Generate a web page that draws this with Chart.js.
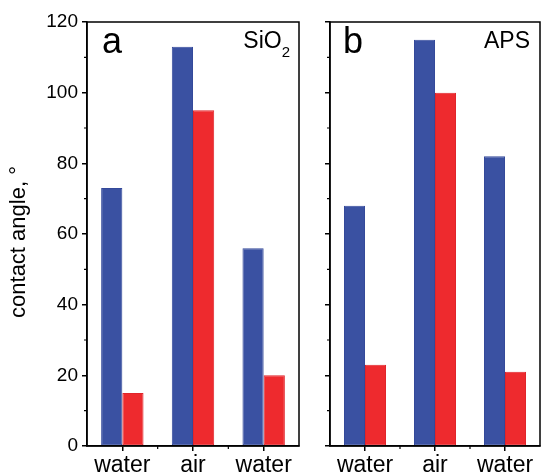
<!DOCTYPE html>
<html>
<head>
<meta charset="utf-8">
<script src="https://cdn.jsdelivr.net/npm/chart.js@4.4.1/dist/chart.umd.min.js"></script>
<style>
  html, body { margin: 0; padding: 0; background: #fff; }
  #wrap { position: relative; width: 542px; height: 475px; }
  #wrap canvas { position: absolute; top: 0; }
</style>
</head>
<body>
<div id="wrap">
  <canvas id="chart-a" width="305" height="475" style="left:0;width:305px;height:475px"></canvas>
  <canvas id="chart-b" width="237" height="475" style="left:305px;width:237px;height:475px"></canvas>
</div>
<script>
const categories = ['water', 'air', 'water'];
const sio2Blue = [73, 113, 56];
const sio2Red = [15, 95, 20];
const apsBlue = [68, 115, 82];
const apsRed = [23, 100, 21];
const yTicks = [0, 20, 40, 60, 80, 100, 120];
const yMinor = [10, 30, 50, 70, 90, 110];

const BLUE = '#3A51A2';
const RED = '#EE2A2E';
const FONT = '"Liberation Sans", Arial, sans-serif';

// frame, minor ticks and panel text
const panelPlugin = {
  id: 'panel',
  afterDraw(chart, args, opts) {
    const ctx = chart.ctx;
    const a = chart.chartArea;
    const ys = chart.scales.y, xs = chart.scales.x;
    ctx.save();
    ctx.strokeStyle = '#000';
    ctx.lineWidth = 1.5;
    ctx.strokeRect(a.left, a.top, a.right - a.left, a.bottom - a.top);

    ctx.lineWidth = 1.2;
    ctx.beginPath();
    yMinor.forEach(v => {
      const py = ys.getPixelForValue(v);
      ctx.moveTo(a.left - 3, py);
      ctx.lineTo(a.left, py);
    });
    const step = xs.getPixelForValue(1) - xs.getPixelForValue(0);
    for (let i = 0; i < categories.length - 1; i++) {
      const px = xs.getPixelForValue(i) + step / 2;
      ctx.moveTo(px, a.bottom);
      ctx.lineTo(px, a.bottom + 3);
    }
    ctx.stroke();

    ctx.fillStyle = '#000';
    ctx.textBaseline = 'alphabetic';
    ctx.textAlign = 'left';
    ctx.font = '36px ' + FONT;
    ctx.fillText(opts.letter, a.left + opts.letterDx, 53);

    ctx.font = '23px ' + FONT;
    ctx.textAlign = 'right';
    if (opts.sub) {
      ctx.font = '15px ' + FONT;
      const sw = ctx.measureText(opts.sub).width;
      ctx.fillText(opts.sub, a.right - 9, 57);
      ctx.font = '23px ' + FONT;
      ctx.fillText(opts.label, a.right - 9 - sw, 48);
    } else {
      ctx.fillText(opts.label, a.right - 10, 48);
    }

    if (opts.title) {
      ctx.translate(19, 242);
      ctx.rotate(-Math.PI / 2);
      ctx.textAlign = 'center';
      ctx.textBaseline = 'middle';
      ctx.font = '22px ' + FONT;
      ctx.fillText(opts.title, 0, 0);
    }
    ctx.restore();
  }
};

function makePanel(id, blue, red, yWidth, padRight, showLabels, panelOpts) {
  return new Chart(document.getElementById(id), {
    type: 'bar',
    data: {
      labels: categories,
      datasets: [
        { data: blue, backgroundColor: BLUE, borderColor: '#34499A', borderWidth: 1, borderSkipped: false },
        { data: red, backgroundColor: RED, borderColor: '#E0252B', borderWidth: 1, borderSkipped: false }
      ]
    },
    plugins: [panelPlugin],
    options: {
      responsive: false,
      animation: false,
      devicePixelRatio: 1,
      categoryPercentage: 0.6,
      barPercentage: 1.0,
      layout: { padding: { top: 22, right: padRight, left: 0, bottom: 0 } },
      plugins: {
        legend: { display: false },
        tooltip: { enabled: false },
        panel: panelOpts
      },
      scales: {
        x: {
          afterFit: (s) => { s.height = 29; },
          grid: { offset: false, drawOnChartArea: false, drawTicks: true, tickLength: 5, color: '#000', lineWidth: 1.5 },
          border: { display: true, color: '#000', width: 1.5 },
          ticks: { color: '#000', font: { family: FONT, size: 23 }, padding: 1, maxRotation: 0 }
        },
        y: {
          min: 0,
          max: 120,
          afterFit: (s) => { s.width = yWidth; },
          afterBuildTicks: (s) => { s.ticks = yTicks.map(v => ({ value: v })); },
          grid: { drawOnChartArea: false, drawTicks: true, tickLength: 5, color: '#000', lineWidth: 1.5 },
          border: { display: true, color: '#000', width: 1.5 },
          ticks: { display: showLabels, color: '#000', font: { family: FONT, size: 19 }, padding: 4 }
        }
      }
    }
  });
}

makePanel('chart-a', sio2Blue, sio2Red, 87, 6, true,
  { letter: 'a', letterDx: 15, label: 'SiO', sub: '2', title: 'contact angle, \u00b0' });
makePanel('chart-b', apsBlue, apsRed, 25, 2, false,
  { letter: 'b', letterDx: 13, label: 'APS' });
</script>
</body>
</html>
